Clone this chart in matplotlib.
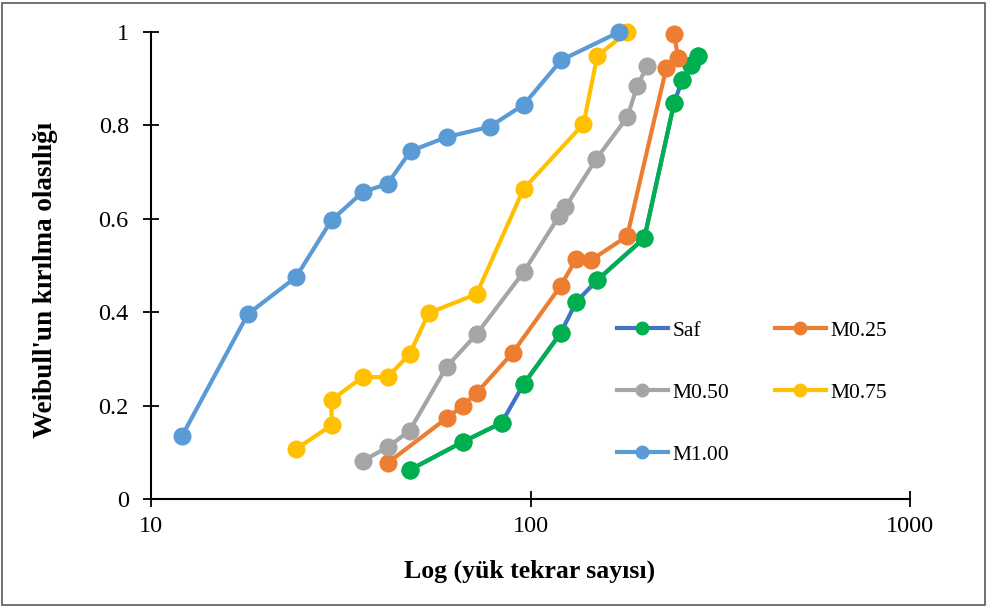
import numpy as np
import matplotlib
matplotlib.use("Agg")
import matplotlib.pyplot as plt
from matplotlib.patches import Rectangle
from matplotlib.ticker import FuncFormatter, FixedLocator, NullLocator

plt.rcParams["font.family"] = ["Liberation Serif", "DejaVu Serif"]

# cycles to failure (log axis) and Weibull failure probability
saf_x = [48.0, 66.2, 83.9, 95.9, 120, 132, 150, 199.6, 239, 251, 265, 277]
saf_y = [0.062, 0.122, 0.163, 0.246, 0.355, 0.422, 0.469, 0.559, 0.848, 0.897, 0.929, 0.949]
# the green line over "Saf" is interrupted after these points (1-based)
saf_green_breaks = [3, 5, 6, 9]

m025_x = [42.0, 60.1, 66.2, 72.1, 89.7, 120, 132, 144.7, 179.8, 228, 245, 239]
m025_y = [0.077, 0.173, 0.199, 0.227, 0.313, 0.456, 0.514, 0.512, 0.563, 0.923, 0.944, 0.996]

m050_x = [36.1, 42.0, 48.0, 60.1, 72.1, 95.9, 119, 123.6, 149, 180, 191, 203]
m050_y = [0.081, 0.111, 0.146, 0.283, 0.353, 0.486, 0.606, 0.625, 0.728, 0.818, 0.884, 0.927]

m075_x = [24.1, 29.9, 29.9, 36.1, 42.0, 48.0, 53.9, 72.1, 95.9, 137.9, 150, 180]
m075_y = [0.107, 0.158, 0.212, 0.261, 0.261, 0.310, 0.398, 0.439, 0.664, 0.803, 0.949, 1.0]

m100_x = [12.07, 18.0, 24.1, 29.9, 36.1, 42.0, 48.3, 60.1, 78.0, 95.9, 120.6, 171.4]
m100_y = [0.135, 0.396, 0.475, 0.597, 0.657, 0.675, 0.745, 0.775, 0.797, 0.844, 0.940, 1.0]

x_ticks = [10, 100, 1000]
y_ticks = [0, 0.2, 0.4, 0.6, 0.8, 1.0]

W, H = 988, 607
fig = plt.figure(figsize=(W / 100, H / 100), dpi=100)
ax = fig.add_axes([151 / W, 1 - 499 / H, (910 - 151) / W, (499 - 32) / H])

lw, ms = 3.0, 12
ax.plot(saf_x, saf_y, color="#4472C4", lw=lw, marker="o", ms=ms,
        mfc="#00B050", mec="#00B050", label="Saf", zorder=2)
# green overlay segments on the Saf curve
gx = np.insert(np.array(saf_x, float), saf_green_breaks, np.nan)
gy = np.insert(np.array(saf_y, float), saf_green_breaks, np.nan)
ax.plot(gx, gy, color="#00B050", lw=lw, zorder=2.1)
ax.plot(saf_x, saf_y, ls="none", marker="o", ms=ms, color="#00B050", zorder=2.2)

series = [("M0.25", m025_x, m025_y, "#ED7D31"),
          ("M0.50", m050_x, m050_y, "#A5A5A5"),
          ("M0.75", m075_x, m075_y, "#FFC000"),
          ("M1.00", m100_x, m100_y, "#5B9BD5")]
for i, (name, x, y, c) in enumerate(series):
    ax.plot(x, y, color=c, lw=lw, marker="o", ms=ms, label=name, zorder=3 + i)

ax.set_xscale("log")
ax.set_xlim(10, 1000)
ax.set_ylim(0, 1)
ax.xaxis.set_major_locator(FixedLocator(x_ticks))
ax.xaxis.set_minor_locator(NullLocator())
ax.xaxis.set_major_formatter(FuncFormatter(lambda v, p: f"{v:g}"))
ax.set_yticks(y_ticks)
ax.yaxis.set_major_formatter(FuncFormatter(lambda v, p: f"{v:g}"))
ax.tick_params(axis="both", direction="inout", length=12, width=1.3,
               labelsize=17.5, colors="black")
ax.tick_params(axis="y", pad=10)
ax.tick_params(axis="x", pad=6)
for s in ["top", "right"]:
    ax.spines[s].set_visible(False)
for s in ["left", "bottom"]:
    ax.spines[s].set_linewidth(1.5)
for ln in ax.lines:
    ln.set_clip_on(False)

fig.text(530 / W, 1 - 571 / H, "Log (yük tekrar sayısı)", ha="center", va="center",
         fontsize=18.5, fontweight="bold")
fig.text(45 / W, 1 - 280 / H, "Weibull'un kırılma olasılığı", ha="center", va="center",
         rotation=90, fontsize=19.5, fontweight="bold")

h, l = ax.get_legend_handles_labels()
order = [0, 2, 4, 1, 3]   # Saf, M0.50, M1.00 | M0.25, M0.75
leg = ax.legend([h[i] for i in order], [l[i] for i in order], ncol=2,
                loc="upper left", bbox_to_anchor=(608 / W, 1 - 312 / H),
                bbox_transform=fig.transFigure, frameon=False, fontsize=15.5,
                handlelength=2.4, handletextpad=0.2, columnspacing=2.1,
                labelspacing=1.95, markerscale=0.75, borderaxespad=0)

fig.patches.append(Rectangle((2 / W, 2 / H), (W - 5) / W, (H - 5) / H,
                             transform=fig.transFigure, fill=False,
                             edgecolor="#595959", lw=1.2))

fig.savefig("out.png", dpi=100)
